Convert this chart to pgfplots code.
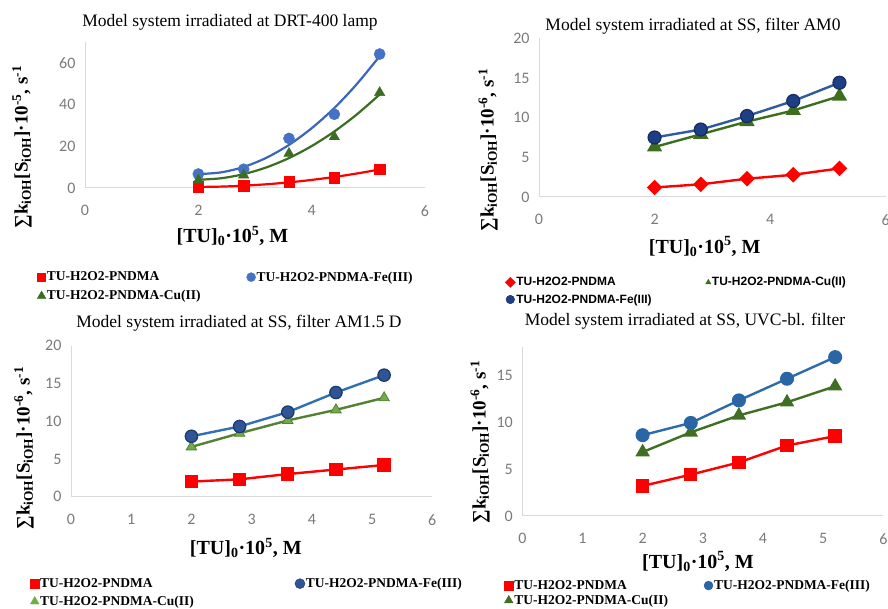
\documentclass[border=0pt]{standalone}
\usepackage{pgfplots}
\pgfplotsset{compat=1.18}
\usepackage{fontspec}
\setmainfont{Liberation Serif}
\newfontfamily\tickf{Carlito}
\newfontfamily\legsans{Liberation Sans}

\definecolor{axgray}{HTML}{D9D9D9}
\definecolor{tickgray}{HTML}{7A7A7A}
\definecolor{pAblue}{HTML}{4472C4}
\definecolor{pAblueL}{HTML}{3B66BC}
\definecolor{pAgreen}{HTML}{3B6E22}
\definecolor{pBnavy}{HTML}{1F3F84}
\definecolor{pBnavyO}{HTML}{152C60}
\definecolor{pBblueL}{HTML}{2E5C9E}
\definecolor{pBgreen}{HTML}{3C6E1E}
\definecolor{pCblue}{HTML}{2F5597}
\definecolor{pCblueO}{HTML}{1F3864}
\definecolor{pCblueL}{HTML}{3270B5}
\definecolor{pCgreenL}{HTML}{548235}
\definecolor{pCgreen}{HTML}{70AD47}
\definecolor{pDblue}{HTML}{2A65A6}
\definecolor{pDblueL}{HTML}{2E6BAA}
\definecolor{pDgreen}{HTML}{3F6F22}

\pgfplotsset{
  panel/.style={
    scale only axis, axis lines=left,
    axis line style={draw=axgray, line width=1pt, -},
    xmin=0, xmax=6, ymin=0,
    tick style={draw=none}, major tick length=0pt,
    clip=false,
    ticklabel style={font=\tickf\fontsize{16}{16}\selectfont, text=tickgray},
    /pgf/number format/assume math mode=true,
    xticklabel style={yshift=-14pt},
    yticklabel style={xshift=-6pt},
    legend cell align=left,
    legend style={draw=none, fill=none, legend columns=2, anchor=north west,
      inner sep=0pt,
      font=\bfseries\fontsize{13.5}{14}\selectfont,
      nodes={inner sep=1pt}},
  }
}

\begin{document}
\begin{tikzpicture}
\path[use as bounding box] (0,0) rectangle (888pt,609pt);

% ---------------- Panel 1 ----------------
\begin{axis}[panel, at={(85pt,421pt)}, anchor=south west,
  width=340pt, height=145.8pt, ymax=70,
  xtick={0,2,4,6}, ytick={0,20,40,60},
  legend style={at={(-0.141,-0.566)}, row sep=6pt,
    /tikz/every even column/.append style={column sep=45pt}}]
\addplot[red, line width=2.2pt, smooth, forget plot] coordinates
  {(2,0.5)(2.4,0.67)(2.8,1.1)(3.2,1.78)(3.6,2.7)(4.0,3.88)(4.4,5.3)(4.8,6.97)(5.2,8.9)};
\addplot[pAblueL, line width=2.2pt, smooth, forget plot] coordinates
  {(2,6.66)(2.4,7.5)(2.8,10.1)(3.2,14.5)(3.6,20.7)(4.0,28.7)(4.4,38.4)(4.8,50.0)(5.2,63.3)};
\addplot[pAgreen, line width=2.2pt, smooth, forget plot] coordinates
  {(2,3.95)(2.4,4.67)(2.8,6.65)(3.2,9.88)(3.6,14.37)(4.0,20.12)(4.4,27.13)(4.8,35.39)(5.2,44.91)};
\addplot[only marks, mark=square*, mark size=5.3pt, red, forget plot] coordinates
  {(2,0.5)(2.8,1.0)(3.6,3.0)(4.4,5.0)(5.2,9.0)};
\addplot[only marks, mark=*, mark size=5.6pt, pAblue, forget plot] coordinates
  {(2,6.7)(2.8,9.0)(3.6,23.8)(4.4,35.4)(5.2,64.3)};
\addplot[only marks, mark=triangle*, mark size=6pt, pAgreen, forget plot] coordinates
  {(2,3.8)(2.8,6.2)(3.6,16.6)(4.4,24.6)(5.2,45.8)};
\addlegendimage{only marks, mark=square*, mark size=4pt, red}
\addlegendentry{TU-H2O2-PNDMA}
\addlegendimage{only marks, mark=*, mark size=4.5pt, pAblue}
\addlegendentry{TU-H2O2-PNDMA-Fe(III)}
\addlegendimage{only marks, mark=triangle*, mark size=5pt, pAgreen}
\addlegendentry{TU-H2O2-PNDMA-Cu(II)}
\end{axis}

% ---------------- Panel 2 ----------------
\begin{axis}[panel, at={(539pt,412pt)}, anchor=south west,
  width=346.7pt, height=158.7pt, ymax=20,
  xtick={0,2,4,6}, ytick={0,5,10,15,20},
  legend style={at={(-0.098,-0.498)}, row sep=5pt,
    font=\legsans\bfseries\fontsize{12}{12.5}\selectfont,
    /tikz/every even column/.append style={column sep=53pt}}]
\addplot[red, line width=2.4pt, mark=square*, mark size=4.3pt,
  mark options={rotate=45}, forget plot] coordinates
  {(2,1.2)(2.8,1.6)(3.6,2.3)(4.4,2.8)(5.2,3.6)};
\addplot[pBgreen, line width=2.4pt, mark=triangle*, mark size=6.5pt, forget plot] coordinates
  {(2,6.3)(2.8,7.9)(3.6,9.5)(4.4,10.9)(5.2,12.7)};
\addplot[pBblueL, line width=2.4pt, mark=*, mark size=6.5pt,
  mark options={fill=pBnavy, draw=pBnavyO, line width=1.2pt}, forget plot] coordinates
  {(2,7.5)(2.8,8.5)(3.6,10.2)(4.4,12.1)(5.2,14.4)};
\addlegendimage{only marks, mark=square*, mark size=3.6pt, mark options={rotate=45}, red}
\addlegendentry{TU-H2O2-PNDMA}
\addlegendimage{only marks, mark=triangle*, mark size=3pt, pBgreen}
\addlegendentry{TU-H2O2-PNDMA-Cu(II)}
\addlegendimage{only marks, mark=*, mark size=4.3pt, mark options={fill=pBnavy, draw=pBnavyO}}
\addlegendentry{TU-H2O2-PNDMA-Fe(III)}
\end{axis}

% ---------------- Panel 3 ----------------
\begin{axis}[panel, at={(71pt,112.3pt)}, anchor=south west,
  width=361.3pt, height=151pt, ymax=20,
  xtick={0,1,2,3,4,5,6}, ytick={0,5,10,15,20},
  legend style={at={(-0.1134,-0.532)}, row sep=5pt,
    /tikz/every even column/.append style={column sep=100pt}}]
\addplot[red, line width=2.4pt, mark=square*, mark size=5.5pt, forget plot] coordinates
  {(2,2.0)(2.8,2.3)(3.6,3.0)(4.4,3.6)(5.2,4.2)};
\addplot[pCgreenL, line width=2.4pt, mark=triangle*, mark size=6pt,
  mark options={fill=pCgreen, draw=pCgreenL, line width=0.8pt}, forget plot] coordinates
  {(2,6.6)(2.8,8.4)(3.6,10.1)(4.4,11.5)(5.2,13.1)};
\addplot[pCblueL, line width=2.4pt, mark=*, mark size=6.2pt,
  mark options={fill=pCblue, draw=pCblueO, line width=1.2pt}, forget plot] coordinates
  {(2,8.0)(2.8,9.3)(3.6,11.2)(4.4,13.8)(5.2,16.1)};
\addlegendimage{only marks, mark=square*, mark size=4.5pt, red}
\addlegendentry{TU-H2O2-PNDMA}
\addlegendimage{only marks, mark=*, mark size=5pt, mark options={fill=pCblue, draw=pCblueO}}
\addlegendentry{TU-H2O2-PNDMA-Fe(III)}
\addlegendimage{only marks, mark=triangle*, mark size=5pt, pCgreen}
\addlegendentry{TU-H2O2-PNDMA-Cu(II)}
\end{axis}

% ---------------- Panel 4 ----------------
\begin{axis}[panel, at={(522.3pt,93pt)}, anchor=south west,
  width=361pt, height=169.2pt, ymax=18,
  xtick={0,1,2,3,4,5,6}, ytick={0,5,10,15},
  legend style={at={(-0.0505,-0.372)}, row sep=2pt,
    /tikz/every even column/.append style={column sep=35pt}}]
\addplot[red, line width=2.4pt, mark=square*, mark size=5.5pt, forget plot] coordinates
  {(2,3.2)(2.8,4.4)(3.6,5.7)(4.4,7.5)(5.2,8.5)};
\addplot[pDgreen, line width=2.4pt, mark=triangle*, mark size=6pt, forget plot] coordinates
  {(2,6.8)(2.8,8.9)(3.6,10.7)(4.4,12.1)(5.2,13.8)};
\addplot[pDblueL, line width=2.4pt, mark=*, mark size=5.8pt,
  mark options={fill=pDblue, draw=pDblue}, forget plot] coordinates
  {(2,8.6)(2.8,9.9)(3.6,12.3)(4.4,14.6)(5.2,16.9)};
\addlegendimage{only marks, mark=square*, mark size=4.5pt, red}
\addlegendentry{TU-H2O2-PNDMA}
\addlegendimage{only marks, mark=*, mark size=4.5pt, pDblue}
\addlegendentry{TU-H2O2-PNDMA-Fe(III)}
\addlegendimage{only marks, mark=triangle*, mark size=5pt, pDgreen}
\addlegendentry{TU-H2O2-PNDMA-Cu(II)}
\end{axis}

% ---------------- Titles ----------------
\begin{scope}[every node/.style={font=\fontsize{17.5}{18}\selectfont}]
\node at (230pt,587pt) {Model system irradiated at DRT-400 lamp};
\node at (693pt,583pt) {Model system irradiated at SS, filter AM0};
\node at (239pt,285.7pt) {Model system irradiated at SS, filter AM1.5 D};
\node at (685pt,287.3pt) {Model system irradiated at SS, UVC-bl. filter};
\end{scope}

% ---------------- x labels ----------------
\begin{scope}[every node/.style={font=\bfseries\fontsize{20}{20}\selectfont}]
\node at (232.5pt,373pt) {[TU]\textsubscript{0}·10\textsuperscript{5}, M};
\node at (704.7pt,362.3pt) {[TU]\textsubscript{0}·10\textsuperscript{5}, M};
\node at (245.8pt,61pt) {[TU]\textsubscript{0}·10\textsuperscript{5}, M};
\node at (698pt,47.3pt) {[TU]\textsubscript{0}·10\textsuperscript{5}, M};
\end{scope}

% ---------------- y labels ----------------
\begin{scope}[every node/.style={rotate=90, font=\bfseries\fontsize{19}{19}\selectfont}]
\node at (22pt,462pt) {∑k\textsubscript{iOH}[S\textsubscript{iOH}]·10\textsuperscript{-5}, s\textsuperscript{-1}};
\node at (488pt,459pt) {∑k\textsubscript{iOH}[S\textsubscript{iOH}]·10\textsuperscript{-6}, s\textsuperscript{-1}};
\node at (24pt,161pt) {∑k\textsubscript{iOH}[S\textsubscript{iOH}]·10\textsuperscript{-6}, s\textsuperscript{-1}};
\node at (480pt,167pt) {∑k\textsubscript{iOH}[S\textsubscript{iOH}]·10\textsuperscript{-6}, s\textsuperscript{-1}};
\end{scope}
\end{tikzpicture}
\end{document}
